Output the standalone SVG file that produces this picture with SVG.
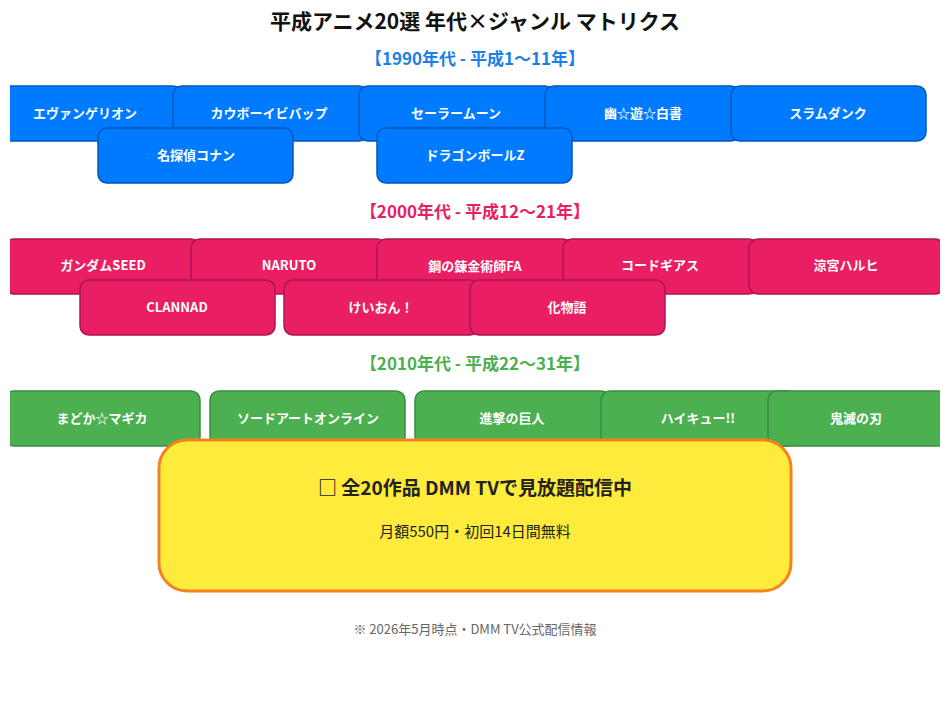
<svg xmlns="http://www.w3.org/2000/svg" width="950" height="713" viewBox="0 0 950 713">
<style>
text{font-family:"Noto Sans CJK JP","Noto Sans",sans-serif;text-anchor:middle}
.t{font-size:13px;font-weight:bold;fill:#fff}
.b rect{fill:#007BFF;stroke:#0058b8;stroke-width:1.5}
.p rect{fill:#E91E63;stroke:#AD1457;stroke-width:1.5}
.g rect{fill:#4CAF50;stroke:#388E3C;stroke-width:1.5}
.h{font-size:17px;font-weight:bold}
</style>
<defs><clipPath id="c"><rect x="10" y="0" width="930" height="713"/></clipPath></defs>
<rect width="950" height="713" fill="#fff"/>
<text x="475" y="29" font-size="21" font-weight="bold" fill="#111">平成アニメ20選 年代×ジャンル マトリクス</text>
<text class="h" x="475" y="65" fill="#1a7fe8">【1990年代 - 平成1〜11年】</text>
<text class="h" x="475" y="218" fill="#E91E63">【2000年代 - 平成12〜21年】</text>
<text class="h" x="475" y="370" fill="#4CAF50">【2010年代 - 平成22〜31年】</text>
<g clip-path="url(#c)">
<g class="b">
<g id="n1"><rect x="-13" y="86" width="195" height="55" rx="9"/><text class="t" x="85" y="118">エヴァンゲリオン</text></g>
<g id="n2"><rect x="173" y="86" width="195" height="55" rx="9"/><text class="t" x="269" y="118">カウボーイビバップ</text></g>
<g id="n3"><rect x="359" y="86" width="195" height="55" rx="9"/><text class="t" x="456" y="118">セーラームーン</text></g>
<g id="n4"><rect x="545" y="86" width="195" height="55" rx="9"/><text class="t" x="643" y="118">幽☆遊☆白書</text></g>
<g id="n5"><rect x="731" y="86" width="195" height="55" rx="9"/><text class="t" x="828" y="118">スラムダンク</text></g>
<g id="n6"><rect x="98" y="128" width="195" height="55" rx="9"/><text class="t" x="196" y="160">名探偵コナン</text></g>
<g id="n7"><rect x="377" y="128" width="195" height="55" rx="9"/><text class="t" x="475" y="160">ドラゴンボールZ</text></g>
</g>
<g class="p">
<g id="n8"><rect x="5" y="239" width="195" height="55" rx="9"/><text class="t" x="103" y="270">ガンダムSEED</text></g>
<g id="n9"><rect x="191" y="239" width="195" height="55" rx="9"/><text class="t" x="289" y="270">NARUTO</text></g>
<g id="n10"><rect x="377" y="239" width="195" height="55" rx="9"/><text class="t" x="475" y="271">鋼の錬金術師FA</text></g>
<g id="n11"><rect x="563" y="239" width="195" height="55" rx="9"/><text class="t" x="660" y="270">コードギアス</text></g>
<g id="n12"><rect x="749" y="239" width="195" height="55" rx="9"/><text class="t" x="846" y="270">涼宮ハルヒ</text></g>
<g id="n13"><rect x="80" y="280" width="195" height="55" rx="9"/><text class="t" x="177" y="312">CLANNAD</text></g>
<g id="n14"><rect x="284" y="280" width="195" height="55" rx="9"/><text class="t" x="381" y="312">けいおん！</text></g>
<g id="n15"><rect x="470" y="280" width="195" height="55" rx="9"/><text class="t" x="567" y="312">化物語</text></g>
</g>
<g class="g">
<g id="n16"><rect x="5" y="391" width="195" height="55" rx="9"/><text class="t" x="102" y="423">まどか☆マギカ</text></g>
<g id="n17"><rect x="210" y="391" width="195" height="55" rx="9"/><text class="t" x="308" y="423">ソードアートオンライン</text></g>
<g id="n18"><rect x="415" y="391" width="195" height="55" rx="9"/><text class="t" x="512" y="423">進撃の巨人</text></g>
<g id="n19"><rect x="601" y="391" width="195" height="55" rx="9"/><text class="t" x="698" y="423">ハイキュー!!</text></g>
<g id="n20"><rect x="768" y="391" width="195" height="55" rx="9"/><text class="t" x="856" y="423">鬼滅の刃</text></g>
</g>
</g>
<g id="cta">
<rect x="159" y="440" width="632" height="151" rx="28" fill="#FFEB3B" stroke="#F5821F" stroke-width="3"/>
<text x="475" y="495" font-size="19" font-weight="bold" fill="#222">□ 全20作品 DMM TVで見放題配信中</text>
<text x="475" y="537" font-size="15" fill="#222">月額550円・初回14日間無料</text>
</g>
<text x="475" y="634" font-size="13" fill="#666">※ 2026年5月時点・DMM TV公式配信情報</text>
<g id="connectors"/>
</svg>
